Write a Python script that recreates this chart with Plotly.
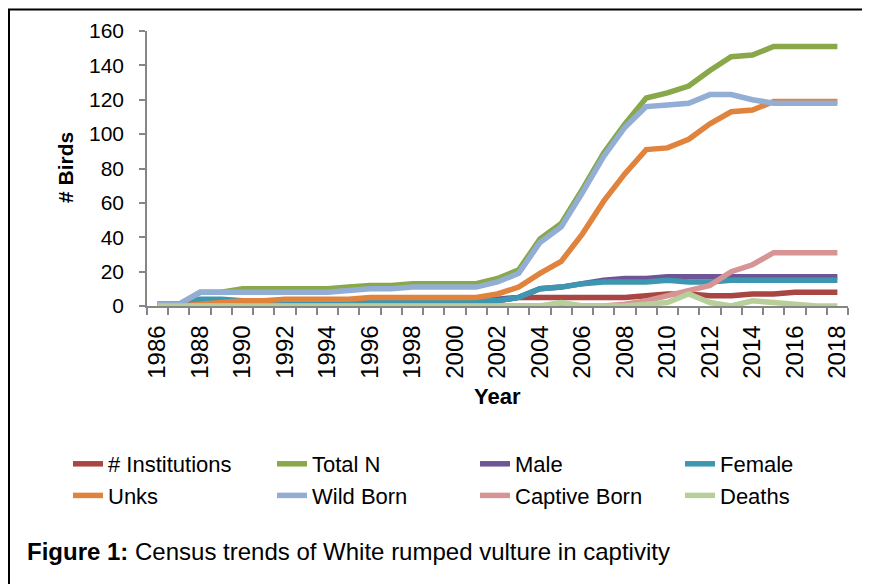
import plotly.graph_objects as go

years = list(range(1986, 2019))

institutions = [1, 1, 2, 2, 2, 2, 2, 2, 2, 2, 2, 2, 2, 2, 2, 2, 3, 5, 5, 5, 5, 5, 5, 6, 7, 7, 6, 6, 7, 7, 8, 8, 8]
total_n = [1, 1, 8, 8, 10, 10, 10, 10, 10, 11, 12, 12, 13, 13, 13, 13, 16, 21, 39, 48, 68, 89, 106, 121, 124, 128, 137, 145, 146, 151, 151, 151, 151]
male = [0, 0, 3, 3, 3, 3, 3, 3, 3, 3, 3, 3, 3, 3, 3, 3, 4, 5, 10, 11, 13, 15, 16, 16, 17, 17, 17, 17, 17, 17, 17, 17, 17]
female = [1, 1, 4, 4, 3, 3, 3, 3, 3, 3, 3, 3, 3, 3, 3, 3, 3, 5, 10, 11, 13, 14, 14, 14, 15, 14, 14, 15, 15, 15, 15, 15, 15]
unks = [0, 0, 1, 2, 3, 3, 4, 4, 4, 4, 5, 5, 5, 5, 5, 5, 7, 11, 19, 26, 42, 61, 77, 91, 92, 97, 106, 113, 114, 119, 119, 119, 119]
wild_born = [1, 1, 8, 8, 8, 8, 8, 8, 8, 9, 10, 10, 11, 11, 11, 11, 14, 19, 37, 46, 66, 87, 104, 116, 117, 118, 123, 123, 120, 118, 118, 118, 118]
captive_born = [0, 0, 0, 0, 0, 0, 0, 0, 0, 0, 0, 0, 0, 0, 0, 0, 0, 0, 0, 1, 0, 0, 1, 3, 6, 9, 12, 20, 24, 31, 31, 31, 31]
deaths = [0, 0, 0, 0, 0, 0, 0, 0, 0, 0, 0, 0, 0, 0, 0, 0, 0, 0, 0, 2, 0, 0, 0, 1, 2, 7, 2, 0, 3, 2, 1, 0, 0]

series_names = ["# Institutions", "Total N", "Male", "Female", "Unks", "Wild Born", "Captive Born", "Deaths"]
series_values = [institutions, total_n, male, female, unks, wild_born, captive_born, deaths]
series_colors = ["#A94543", "#89A84A", "#6E5596", "#3E97B1", "#E0833C", "#92AED5", "#D69594", "#B7D09A"]

x_ticks = list(range(1986, 2019, 2))

FONT = "Liberation Sans, Arial, sans-serif"

# legend laid out as 4 columns x 2 rows, one small legend per column
legend_ids = ["legend", "legend2", "legend3", "legend4"]

fig = go.Figure()
for i, (name, vals, col) in enumerate(zip(series_names, series_values, series_colors)):
    fig.add_trace(go.Scatter(x=years, y=vals, name=name, mode="lines",
                             line=dict(color=col, width=5.5),
                             legend=legend_ids[i % 4]))

# page has an 8px body margin; work in screen pixels and convert
OFF = 8
W, H = 862, 576
L, R, T, B = 139, 22, 23, 278
pw, ph = W - L - R, H - T - B


def fx(sx):
    return (sx - OFF - L) / pw


def fy(sy):
    return 1 - (sy - OFF - T) / ph


legend_cols_x = [68, 272, 475, 680]
legend_top = 443


def legend_style(sx):
    return dict(orientation="v", x=fx(sx), y=fy(legend_top), xanchor="left", yanchor="top",
                font=dict(family=FONT, size=22, color="black"),
                itemwidth=30, bgcolor="rgba(0,0,0,0)", tracegroupgap=0)


fig.update_layout(
    width=W, height=H,
    margin=dict(l=L, r=R, t=T, b=B, pad=0),
    paper_bgcolor="white", plot_bgcolor="white",
    font=dict(family=FONT, size=22, color="black"),
    showlegend=True,
    legend=legend_style(legend_cols_x[0]),
    legend2=legend_style(legend_cols_x[1]),
    legend3=legend_style(legend_cols_x[2]),
    legend4=legend_style(legend_cols_x[3]),
    xaxis=dict(range=[1985.5, 2018.5], tickmode="array", tickvals=x_ticks,
               ticktext=[str(v) for v in x_ticks], tickangle=-90,
               ticks="", showgrid=False, zeroline=False, automargin=False,
               showline=True, linecolor="#868686", linewidth=1.5,
               tickfont=dict(family=FONT, size=24, color="black"),
               ticklabelstandoff=8,
               minor=dict(tickmode="linear", tick0=1985.5, dtick=1, ticks="outside",
                          ticklen=7, tickcolor="#868686", tickwidth=1.5, showgrid=False)),
    yaxis=dict(range=[0, 160], tickmode="linear", tick0=0, dtick=20,
               ticks="outside", ticklen=6, tickcolor="#868686", tickwidth=1.5,
               showgrid=False, zeroline=False, automargin=False,
               showline=True, linecolor="#868686", linewidth=1.5,
               tickfont=dict(family=FONT, size=21, color="black"),
               ticklabelstandoff=11),
    annotations=[
        dict(text="<b># Birds</b>", x=fx(65), y=fy(168), xref="paper", yref="paper",
             xanchor="center", yanchor="middle",
             showarrow=False, textangle=-90, font=dict(family=FONT, size=21, color="black")),
        dict(text="<b>Year</b>", x=fx(497), y=fy(396), xref="paper", yref="paper",
             xanchor="center", yanchor="middle",
             showarrow=False, font=dict(family=FONT, size=22, color="black")),
        dict(text="<b>Figure 1:</b> Census trends of White rumped vulture in captivity",
             x=fx(25), y=fy(551), xref="paper", yref="paper", xanchor="left", yanchor="middle",
             showarrow=False, font=dict(family=FONT, size=24, color="black")),
    ],
    shapes=[
        dict(type="line", xref="paper", yref="paper", x0=fx(8), x1=fx(872), y0=fy(9.5), y1=fy(9.5),
             line=dict(color="black", width=2)),
        dict(type="line", xref="paper", yref="paper", x0=fx(9), x1=fx(9), y0=fy(9), y1=fy(590),
             line=dict(color="black", width=2)),
    ],
)

fig.write_html("out.html")
